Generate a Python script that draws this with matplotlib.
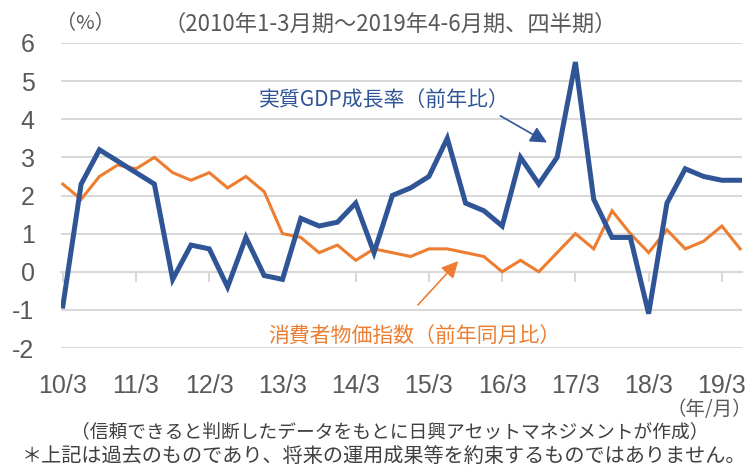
import numpy as np
import matplotlib
matplotlib.use("Agg")
import matplotlib.pyplot as plt
from matplotlib import font_manager

# quarterly data, 2010 Q1 (10/3) .. 2019 Q2
gdp = [-0.9, 2.3, 3.2, 2.9, 2.6, 2.3, -0.2, 0.7, 0.6, -0.4,
       0.9, -0.1, -0.2, 1.4, 1.2, 1.3, 1.8, 0.5, 2.0, 2.2,
       2.5, 3.5, 1.8, 1.6, 1.2, 3.0, 2.3, 3.0, 5.5, 1.9,
       0.9, 0.9, -1.1, 1.8, 2.7, 2.5, 2.4, 2.4]
cpi = [2.3, 1.9, 2.5, 2.8, 2.7, 3.0, 2.6, 2.4, 2.6, 2.2,
       2.5, 2.1, 1.0, 0.9, 0.5, 0.7, 0.3, 0.6, 0.5, 0.4,
       0.6, 0.6, 0.5, 0.4, 0.0, 0.3, 0.0, 0.5, 1.0, 0.6,
       1.6, 1.0, 0.5, 1.1, 0.6, 0.8, 1.2, 0.6]
tick_labels = ["10/3", "11/3", "12/3", "13/3", "14/3",
               "15/3", "16/3", "17/3", "18/3", "19/3"]
y_ticks = [-2, -1, 0, 1, 2, 3, 4, 5, 6]

BLUE = "#2F5597"
ORANGE = "#ED7D31"
GRID = "#D9D9D9"
GRAY = "#595959"

plt.rcParams["font.family"] = ["Noto Sans CJK JP", "DejaVu Sans"]
names = {f.name for f in font_manager.fontManager.ttflist}
num_font = "Liberation Sans Narrow" if "Liberation Sans Narrow" in names else "Liberation Sans"

fig = plt.figure(figsize=(7.56, 4.68), dpi=100)
ax = fig.add_axes([61 / 756, 1 - 348 / 468, 681 / 756, 305 / 468])

x = np.arange(len(gdp))
ax.plot(x, cpi, color=ORANGE, lw=2.2, solid_joinstyle="miter", zorder=3)
ax.plot(x, gdp, color=BLUE, lw=3.6, solid_joinstyle="miter", zorder=4)

ax.set_xlim(-0.1, len(gdp) - 0.9)
ax.set_ylim(min(y_ticks), max(y_ticks))
for s in ax.spines.values():
    s.set_visible(False)
for v in y_ticks:
    ax.axhline(v, color=GRID, lw=1.5, zorder=1)

ax.set_yticks(y_ticks)
ax.set_yticklabels([str(v) for v in y_ticks], family=num_font, fontsize=18, color=GRAY)
ax.tick_params(axis="y", length=0, pad=19)

tick_pos = np.arange(0, len(gdp), 4)
ax.set_xticks(tick_pos)
ax.set_xticklabels(tick_labels, family=num_font, fontsize=18, color=GRAY)
ax.tick_params(axis="x", length=0, pad=19)

# category axis sits on the zero line with small downward ticks
frac0 = (0 - min(y_ticks)) / (max(y_ticks) - min(y_ticks))
sec = ax.secondary_xaxis(frac0)
sec.set_xticks(tick_pos)
sec.set_xticklabels([])
sec.tick_params(axis="x", length=7, width=1.5, color=GRID, direction="out")
sec.spines["bottom"].set_color(GRID)
sec.spines["bottom"].set_linewidth(1.5)

# series labels and arrows
ax.text(17.55, 4.5, "実質GDP成長率（前年比）", color=BLUE, fontsize=15,
        ha="center", va="center")
ax.annotate("", xy=(26.45, 3.39), xytext=(23.9, 4.09),
            arrowprops=dict(arrowstyle="-|>,head_length=1.0,head_width=0.5",
                            color=BLUE, lw=1.2, shrinkA=0, shrinkB=0))
ax.text(19.2, -1.72, "消費者物価指数（前年同月比）", color=ORANGE, fontsize=15,
        ha="center", va="center")
ax.annotate("", xy=(21.6, 0.28), xytext=(19.4, -0.87),
            arrowprops=dict(arrowstyle="-|>,head_length=1.0,head_width=0.5",
                            color=ORANGE, lw=1.2, shrinkA=0, shrinkB=0))

# header and notes
fig.text(56 / 756, 1 - 24 / 468, "（%）", color=GRAY, fontsize=14.5, ha="left", va="center")
fig.text(390 / 756, 1 - 24 / 468, "（2010年1-3月期～2019年4-6月期、四半期）", color=GRAY,
         fontsize=16, ha="center", va="center")
fig.text(752 / 756, 1 - 410 / 468, "（年/月）", color=GRAY, fontsize=14, ha="right", va="center")
fig.text(390 / 756, 1 - 433 / 468, "（信頼できると判断したデータをもとに日興アセットマネジメントが作成）",
         color="#404040", fontsize=13.5, ha="center", va="center")
fig.text(22 / 756, 1 - 457 / 468, "＊上記は過去のものであり、将来の運用成果等を約束するものではありません。",
         color="#404040", fontsize=14.5, ha="left", va="center")

fig.savefig("out.png", dpi=100)
